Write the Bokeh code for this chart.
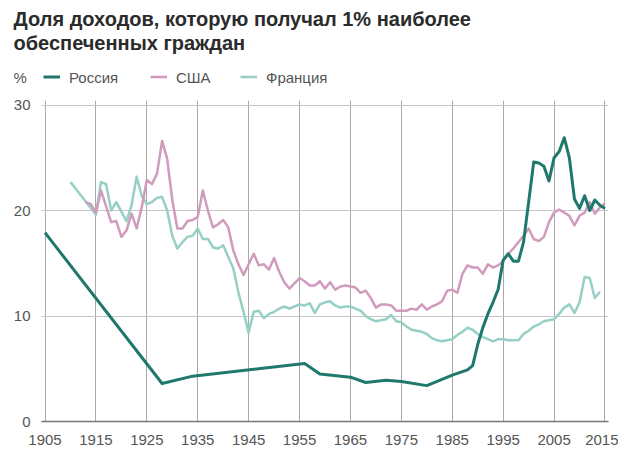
from bokeh.plotting import figure
from bokeh.layouts import column
from bokeh.models import Range1d, FixedTicker
from bokeh.core.properties import value
from bokeh.embed import file_html
from bokeh.resources import INLINE

# ---- data (share of income of top 1%, %) ----
russia_years = [1905, 1928, 1934, 1956, 1959, 1965, 1968, 1972, 1975, 1980, 1985, 1988,
                1989, 1990, 1991, 1992, 1993, 1994, 1995, 1996, 1997, 1998, 1999, 2000,
                2001, 2002, 2003, 2004, 2005, 2006, 2007, 2008, 2009, 2010, 2011, 2012,
                2013, 2014, 2015]
russia_vals = [17.9, 3.6, 4.3, 5.5, 4.5, 4.2, 3.7, 3.9, 3.8, 3.4, 4.4, 4.9,
               5.3, 7.3, 8.9, 10.2, 11.3, 12.5, 15.3, 15.9, 15.2, 15.2, 17.0, 20.8,
               24.6, 24.5, 24.2, 22.8, 25.0, 25.6, 26.9, 25.0, 21.1, 20.2, 21.4, 20.0,
               21.0, 20.5, 20.2]

usa_years = list(range(1913, 2016))
usa_vals = [20.8, 20.6, 19.8, 21.9, 20.4, 18.9, 19.0, 17.5, 18.1, 19.7,   # 1913-1922
            18.3, 20.3, 22.9, 22.5, 23.5, 26.6, 24.9, 21.0, 18.3, 18.3,   # 1923-1932
            19.0, 19.1, 19.4, 21.9, 20.0, 18.4, 18.7, 19.1, 18.4, 16.2,   # 1933-1942
            14.9, 13.9, 14.9, 15.9, 14.8, 14.9, 14.4, 15.5, 14.2, 13.2,   # 1943-1952
            12.6, 13.1, 13.6, 13.3, 12.9, 12.9, 13.3, 12.6, 13.2, 12.5,   # 1953-1962
            12.8, 12.9, 12.8, 12.7, 12.2, 12.4, 11.7, 10.8, 11.1, 11.1,   # 1963-1972
            11.0, 10.5, 10.5, 10.5, 10.7, 10.6, 11.1, 10.6, 10.9, 11.1,   # 1973-1982
            11.4, 12.4, 12.5, 12.2, 14.0, 14.8, 14.6, 14.6, 14.0, 14.9,   # 1983-1992
            14.6, 14.8, 15.2, 15.9, 16.4, 17.0, 17.6, 18.3, 17.3, 17.1,   # 1993-2002
            17.5, 18.9, 19.8, 20.1, 19.8, 19.5, 18.6, 19.5, 19.8, 20.8,   # 2003-2012
            19.7, 20.3, 20.7]                                             # 2013-2015

france_years = [1910] + list(range(1915, 2015))
france_vals = [22.7,
               19.6, 22.7, 22.5, 20.0, 20.8, 19.9, 19.0, 20.5, 23.2, 21.4,   # 1915-1924
               20.6, 20.8, 21.2, 21.3, 20.0, 17.6, 16.4, 17.0, 17.5, 17.6,   # 1925-1934
               18.3, 17.3, 17.3, 16.5, 16.4, 16.7, 15.6, 14.5, 12.2, 10.4,   # 1935-1944
               8.4, 10.4, 10.5, 9.8, 10.2, 10.4, 10.7, 10.9, 10.7, 10.9,     # 1945-1954
               11.1, 11.0, 11.2, 10.3, 11.1, 11.3, 11.4, 11.0, 10.8, 10.9,   # 1955-1964
               10.9, 10.7, 10.5, 10.0, 9.7, 9.5, 9.6, 9.7, 10.1, 9.5,        # 1965-1974
               9.4, 9.0, 8.7, 8.6, 8.5, 8.3, 7.9, 7.7, 7.6, 7.7,             # 1975-1984
               7.8, 8.2, 8.5, 8.9, 8.7, 8.3, 8.0, 7.8, 7.6, 7.8,             # 1985-1994
               7.8, 7.7, 7.7, 7.7, 8.3, 8.6, 9.0, 9.2, 9.5, 9.6,             # 1995-2004
               9.7, 10.2, 10.8, 11.1, 10.3, 11.3, 13.7, 13.6, 11.7, 12.3]    # 2005-2014

x_ticks = [1905, 1915, 1925, 1935, 1945, 1955, 1965, 1975, 1985, 1995, 2005, 2015]
y_ticks = [0, 10, 20, 30]

title_lines = ["Доля доходов, которую получал 1% наиболее", "обеспеченных граждан"]
series_names = ["Россия", "США", "Франция"]
unit_label = "%"

# ---- styles ----
FONT = "Liberation Sans"
TEXT_COLOR = "#555555"
TITLE_COLOR = "#2b2b2b"
colors = {"ru": "#1e786c", "us": "#d09bbc", "fr": "#96cfc5"}
widths = {"ru": 3, "us": 2.5, "fr": 2.5}

W = 618
HEAD_H = 94
MAIN_H = 358

# ---- header (title + legend), pixel coordinates from top-left ----
head = figure(width=W, height=HEAD_H, x_range=Range1d(0, W), y_range=Range1d(HEAD_H, 0),
              output_backend="svg", toolbar_location=None, title=None,
              x_axis_type=None, y_axis_type=None,
              min_border_left=0, min_border_right=0, min_border_top=0, min_border_bottom=0)
head.frame_align = False
head.outline_line_color = None
head.grid.visible = False
head.background_fill_color = "white"
head.border_fill_color = "white"

head.text(x=[13, 13], y=[18.5, 42.0], text=title_lines,
          text_font=value(FONT), text_font_size="20px", text_font_style="bold",
          text_color=TITLE_COLOR, text_baseline="alphabetic", text_align="left")

head.text(x=[13], y=[77.3], text=[unit_label], text_font=value(FONT),
          text_font_size="15px", text_color=TEXT_COLOR, text_baseline="alphabetic")

legend_keys = ["ru", "us", "fr"]
legend_line_x = [43, 150, 240]
legend_line_len = 16.5
legend_text_gap = 9
for key, name, x0 in zip(legend_keys, series_names, legend_line_x):
    head.segment(x0=[x0], y0=[76.5], x1=[x0 + legend_line_len], y1=[76.5],
                 line_color=colors[key], line_width=widths[key])
    head.text(x=[x0 + legend_line_len + legend_text_gap], y=[77.3], text=[name],
              text_font=value(FONT), text_font_size="15px", text_color=TEXT_COLOR,
              text_baseline="alphabetic")

# ---- main chart ----
p = figure(width=W, height=MAIN_H,
           x_range=Range1d(1904.31, 2015.69), y_range=Range1d(0, 30.43),
           output_backend="svg", toolbar_location=None, title=None,
           min_border_left=41, min_border_right=10, min_border_top=6, min_border_bottom=31)
p.frame_align = False
p.outline_line_color = None
p.background_fill_color = "white"
p.border_fill_color = "white"

p.xgrid.ticker = FixedTicker(ticks=x_ticks)
p.ygrid.ticker = FixedTicker(ticks=y_ticks)
p.xgrid.grid_line_color = "#a9a9a9"
p.xgrid.grid_line_width = 1
p.ygrid.grid_line_color = "#c6c6c6"
p.ygrid.grid_line_width = 1

xa = p.xaxis[0]
xa.ticker = FixedTicker(ticks=x_ticks)
xa.axis_line_color = "#777777"
xa.axis_line_width = 1.5
xa.major_tick_line_color = None
xa.minor_tick_line_color = None
xa.major_tick_out = 0
xa.major_tick_in = 0
xa.major_label_standoff = 13
xa.major_label_text_font = FONT
xa.major_label_text_font_size = "15px"
xa.major_label_text_color = TEXT_COLOR

ya = p.yaxis[0]
ya.ticker = FixedTicker(ticks=y_ticks)
ya.axis_line_color = None
ya.major_tick_line_color = None
ya.minor_tick_line_color = None
ya.major_tick_out = 0
ya.major_tick_in = 0
ya.major_label_standoff = 11
ya.major_label_text_font = FONT
ya.major_label_text_font_size = "15px"
ya.major_label_text_color = TEXT_COLOR

p.line(france_years, france_vals, line_color=colors["fr"], line_width=widths["fr"], line_join="round")
p.line(usa_years, usa_vals, line_color=colors["us"], line_width=widths["us"], line_join="round")
p.line(russia_years, russia_vals, line_color=colors["ru"], line_width=widths["ru"], line_join="round")

layout = column(head, p, spacing=0)
open("out.html", "w").write(file_html(layout, INLINE))
